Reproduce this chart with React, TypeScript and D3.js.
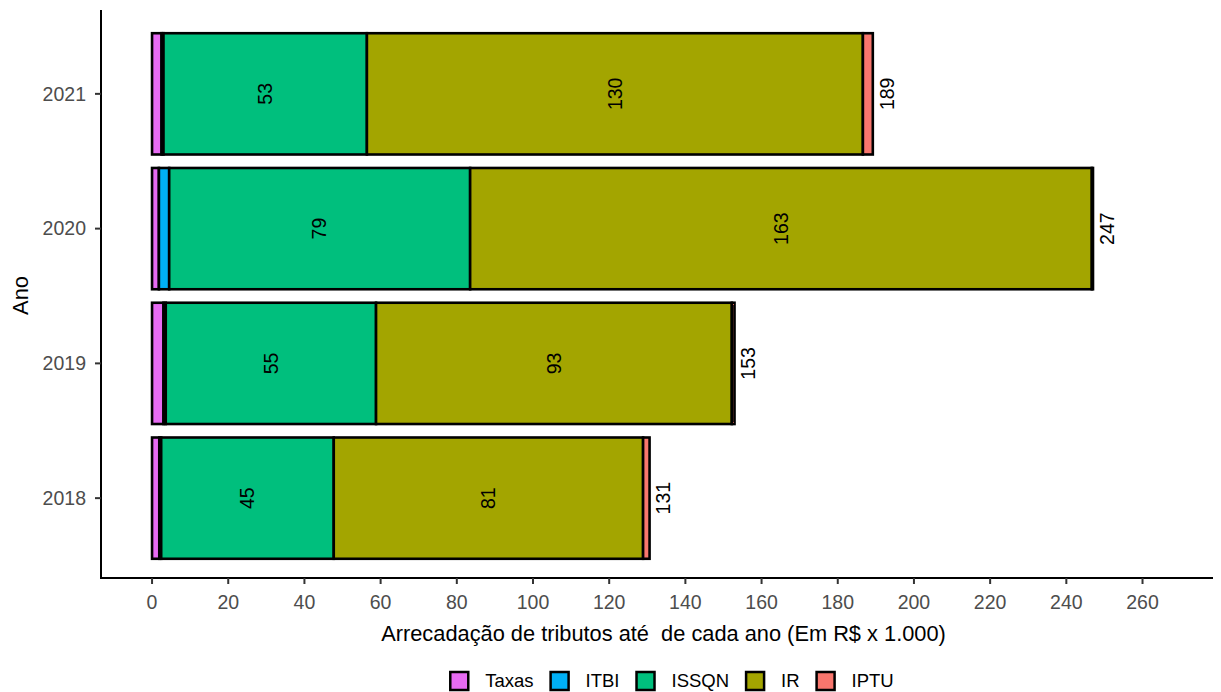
import React from "react";
import * as d3 from "d3";

const years = ["2018", "2019", "2020", "2021"];
const seriesNames = ["Taxas", "ITBI", "ISSQN", "IR", "IPTU"];
const taxas = [1.9, 3.0, 1.8, 2.5];
const itbi = [0.5, 0.6, 2.7, 0.5];
const issqn = [45.3, 55.2, 79.0, 53.4];
const ir = [81.2, 93.4, 163.2, 130.2];
const iptu = [1.7, 0.7, 0.3, 2.6];
const colors = ["#E76BF3", "#00B0F6", "#00BF7D", "#A3A500", "#F8766D"];
const xTicks = d3.range(0, 261, 20);

const W = 1221;
const H = 692;
const FONT = "'Liberation Sans', Arial, Helvetica, sans-serif";

function measure(text: string, size: number) {
  const c = document.createElement("canvas").getContext("2d");
  if (!c) return text.length * size * 0.55;
  c.font = `${size}px ${FONT}`;
  return c.measureText(text).width;
}

export default function App() {
  const left = 101, right = 1213, top = 13, bottom = 578;
  const x = d3.scaleLinear().domain([-13.4, 278.5]).range([left, right]);
  const y = d3.scaleLinear().domain([-0.6, years.length - 0.4]).range([579, top]);
  const step = Math.abs(y(1) - y(0));
  const bh = step * 0.9;

  const rows = years.map((yr, i) => {
    const vals = [taxas[i], itbi[i], issqn[i], ir[i], iptu[i]];
    let acc = 0;
    const segs = vals.map((v, k) => {
      const s = { k, v, x0: acc, x1: acc + v };
      acc += v;
      return s;
    });
    return { yr, i, segs, total: acc };
  });

  // legend layout
  const legSize = 18.5;
  const boxW = 20;
  const gapBT = 16;
  const gapTB = 16;
  const widths = seriesNames.map((n) => measure(n, legSize));
  const totalW = widths.reduce((a, w) => a + boxW + gapBT + w, 0) + gapTB * (seriesNames.length - 1);
  let lx = 671.5 - totalW / 2;
  const legend = seriesNames.map((n, k) => {
    const item = { n, k, bx: lx, tx: lx + boxW + gapBT };
    lx += boxW + gapBT + widths[k] + gapTB;
    return item;
  });

  return (
    <svg width={W} height={H} style={{ display: "block", position: "absolute", left: 0, top: 0, background: "#fff" }} fontFamily={FONT}>
      {rows.map((r) => (
        <g key={r.yr}>
          {r.segs.map((s) => (
            <rect
              key={s.k}
              x={x(s.x0)}
              y={y(r.i) - bh / 2}
              width={Math.max(0, x(s.x1) - x(s.x0))}
              height={bh}
              fill={colors[s.k]}
              stroke="#000"
              strokeWidth={2.6}
            />
          ))}
          {r.segs
            .filter((s) => s.v > 10)
            .map((s) => {
              const cx = x((s.x0 + s.x1) / 2);
              const cy = y(r.i);
              return (
                <text
                  key={"l" + s.k}
                  transform={`translate(${cx},${cy}) rotate(-90)`}
                  textAnchor="middle"
                  dy="0.35em"
                  fontSize={19.5}
                  fill="#000"
                >
                  {Math.round(s.v)}
                </text>
              );
            })}
          <text
            transform={`translate(${x(r.total) + 14},${y(r.i)}) rotate(-90)`}
            textAnchor="middle"
            dy="0.35em"
            fontSize={19.5}
            fill="#000"
          >
            {Math.round(r.total)}
          </text>
        </g>
      ))}

      {/* axes */}
      <line x1={left} x2={left} y1={10} y2={bottom + 1} stroke="#000" strokeWidth={2} />
      <line x1={left - 1} x2={right} y1={bottom} y2={bottom} stroke="#000" strokeWidth={2} />
      {xTicks.map((t) => (
        <g key={t}>
          <line x1={x(t)} x2={x(t)} y1={bottom} y2={bottom + 6} stroke="#333" strokeWidth={2} />
          <text x={x(t)} y={609} textAnchor="middle" fontSize={19.5} fill="#4D4D4D">
            {t}
          </text>
        </g>
      ))}
      {years.map((yr, i) => (
        <g key={yr}>
          <line x1={left - 6} x2={left} y1={y(i)} y2={y(i)} stroke="#333" strokeWidth={2} />
          <text x={86} y={y(i)} dy="0.35em" textAnchor="end" fontSize={19.5} fill="#4D4D4D">
            {yr}
          </text>
        </g>
      ))}
      <text x={663.5} y={641} textAnchor="middle" fontSize={21.8} fill="#000" style={{ whiteSpace: "pre" }}>
        {"Arrecadação de tributos até  de cada ano (Em R$ x 1.000)"}
      </text>
      <text transform={`translate(28,${(top + bottom) / 2}) rotate(-90)`} textAnchor="middle" fontSize={21.8} fill="#000">
        Ano
      </text>

      {legend.map((l) => (
        <g key={l.n}>
          <rect x={l.bx + 1} y={672} width={boxW - 2} height={18} fill={colors[l.k]} stroke="#000" strokeWidth={2.5} />
          <text x={l.tx} y={681} dy="0.35em" fontSize={legSize} fill="#000">
            {l.n}
          </text>
        </g>
      ))}
    </svg>
  );
}
